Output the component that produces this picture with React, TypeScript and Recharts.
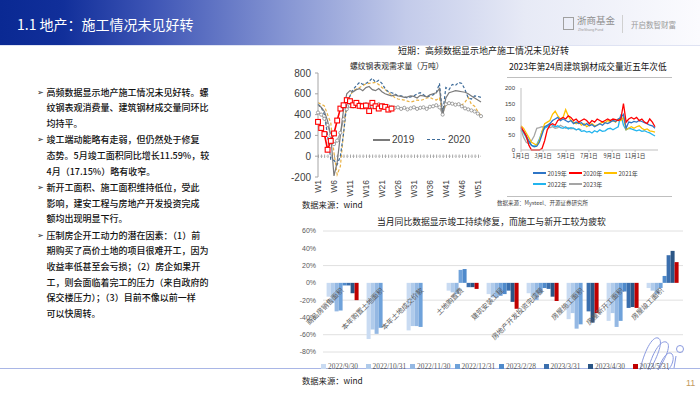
import React from "react";
import { Bar, BarChart, CartesianGrid, Line, LineChart, ReferenceLine, XAxis, YAxis } from "recharts";

const CJK = '"Noto Sans CJK SC", "Noto Sans", sans-serif';
const SANS = '"Liberation Sans", Arial, sans-serif';
const SERIF = '"Liberation Serif", "DejaVu Serif", serif';

// ---- 螺纹钢表观需求量（万吨），按周 W1..W52
const weekLabels = Array.from({ length: 52 }, (_, i) => `W${i + 1}`);
const rebar2019 = [490, 470, 430, 340, 200, -190, -60, 200, 450, 600, 630, 620, 640, 650, 630, 660, 670, 640, 630, 650, 620, 600, 590, 580, 590, 580, 575, 565, 570, 580, 575, 560, 585, 580, 570, 590, 600, 610, 650, 390, 560, 610, 620, 630, 625, 620, 615, 600, 580, 560, 540, 520];
const rebar2020 = [500, 470, 400, 200, -30, -40, -80, 0, 220, 500, 580, 640, 680, 710, 690, 700, 720, 750, 710, 730, 700, 650, 620, 610, 600, 580, 580, 570, 560, 570, 580, 600, 610, 590, 570, 580, 590, 610, 700, 410, 660, 640, 690, 680, 710, 700, 640, 560, 550, 580, 575, 565];
const rebar2021 = [515, 500, 483, 400, 320, 32, -177, -97, 225, 516, 580, 629, 645, 661, 680, 694, 700, 705, 710, 690, 661, 640, 613, 590, 565, 550, 545, 540, 530, 520, 530, 540, 535, 545, 560, 565, 550, 540, 560, 420, 500, 510, 500, 495, 505, 490, 520, 565, 500, 480, 430, 390];
const rebar2022 = [420, 400, 360, 300, 200, 116, 150, 225, 355, 452, 484, 480, 495, 500, 485, 500, 490, 475, 485, 500, 490, 475, 480, 470, 465, 470, 455, 465, 450, 460, 470, 455, 465, 470, 455, 475, 480, 490, 470, 400, 500, 510, 505, 495, 500, 480, 460, 450, 440, 430, 410, 385];
const rebar2023 = [330, 271, 213, 62, 147, 219, 343, 458, 490, 539, 529, 490, 513, 484, 480, 487, 434, 513, 480, 458, 480, 474, 448, 458];
const rebarTicks = [-200, 0, 200, 400, 600, 800];

// ---- 建筑钢材成交量（千吨），按周
const monthTicks = [1, 60, 121, 182, 244, 305];
const monthLabels = ["1月1日", "3月1日", "5月1日", "7月1日", "9月1日", "11月1日"];
const deal2019 = [70, 60, 45, 30, 15, 10, 12, 25, 50, 75, 80, 85, 95, 100, 105, 95, 100, 95, 90, 95, 85, 90, 85, 88, 80, 85, 78, 82, 75, 80, 85, 80, 88, 85, 90, 95, 92, 100, 105, 115, 70, 90, 88, 92, 90, 95, 92, 88, 85, 80, 78, 70];
const deal2020 = [75, 60, 45, 15, 0, 0, 0, 0, 5, 30, 65, 80, 85, 80, 95, 100, 105, 100, 110, 105, 95, 100, 90, 95, 100, 95, 85, 95, 90, 100, 95, 90, 95, 100, 95, 100, 98, 95, 100, 150, 90, 100, 105, 100, 105, 95, 100, 90, 85, 100, 90, 75];
const deal2021 = [78, 70, 55, 40, 25, 20, 15, 30, 60, 85, 90, 95, 115, 125, 110, 100, 105, 130, 110, 95, 90, 85, 90, 80, 85, 75, 80, 85, 78, 80, 85, 90, 88, 95, 92, 95, 90, 100, 95, 105, 65, 70, 75, 70, 75, 78, 70, 65, 68, 62, 60, 58];
const deal2022 = [70, 55, 40, 25, 15, 12, 18, 35, 60, 70, 75, 85, 80, 75, 78, 72, 70, 75, 68, 72, 70, 65, 68, 60, 62, 58, 60, 55, 62, 58, 65, 60, 62, 68, 70, 65, 70, 75, 115, 80, 65, 70, 68, 65, 62, 65, 60, 62, 58, 55, 50, 45];
const deal2023 = [65, 40, 25, 20, 30, 45, 70, 72, 75, 73, 78, 72, 75, 70, 72, 80, 75, 70, 72, 68, 70, 65, 68, 65];

// ---- 当月同比（%）
const categories = ["商品房销售面积", "本年购置土地面积", "本年土地成交价款", "土地购置费", "建筑安装工程", "房地产开发投资完成额", "房屋施工面积", "房屋新开工面积", "房屋竣工面积"];
const yoy20220930 = [-16, -65, -55, -9, -13, -12, -42, -44, -6];
const yoy20221031 = [-23, -54, -50, -11, -17, -16, -35, -35, -9];
const yoy20221130 = [-33, -59, -50, -13, -17, -20, -53, -51, -13];
const yoy20221231 = [-32, -52, -51, 15, -15, -12, -48, -44, -6];
const yoy20230228 = [-3, null, null, 16, -13, -6, null, -10, 8];
const yoy20230331 = [-3, null, null, -5, -9, -7, -33, -29, 32];
const yoy20230430 = [-12, null, null, -5, -22, -16, -46, -28, 37];
const yoy20230531 = [-20, null, null, -7, -30, -21, -35, -29, 24];
const yoyTicks = [-80, -60, -40, -20, 0, 20, 40, 60];

const rebarSeries = [
  { key: "y2022", name: "2022", data: rebar2022, color: "#a6a6a6" },
  { key: "y2021", name: "2021", data: rebar2021, color: "#e9b143", dash: "3 2" },
  { key: "y2020", name: "2020", data: rebar2020, color: "#3d6b99", dash: "3 2" },
  { key: "y2019", name: "2019", data: rebar2019, color: "#7a7a7a" },
  { key: "y2023", name: "2023", data: rebar2023, color: "#ff0000" },
];
const rebarRows = weekLabels.map((w, i) => {
  const row: any = { week: w };
  rebarSeries.forEach((s) => (row[s.key] = s.data[i]));
  return row;
});

const dealSeries = [
  { key: "d2023", name: "2023年", data: deal2023, color: "#a5a5a5" },
  { key: "d2022", name: "2022年", data: deal2022, color: "#22b4ee" },
  { key: "d2021", name: "2021年", data: deal2021, color: "#ffc000" },
  { key: "d2019", name: "2019年", data: deal2019, color: "#2e75c6" },
  { key: "d2020", name: "2020年", data: deal2020, color: "#ff0000" },
];
const dealLegendOrder = ["d2019", "d2020", "d2021", "d2022", "d2023"];
const dealRows = deal2019.map((_, i) => {
  const row: any = { day: 1 + i * 7 };
  dealSeries.forEach((s) => (row[s.key] = s.data[i]));
  return row;
});

const yoySeries = [
  { key: "a", name: "2022/9/30", data: yoy20220930, color: "#c9dbf2" },
  { key: "b", name: "2022/10/31", data: yoy20221031, color: "#b0cbeb" },
  { key: "c", name: "2022/11/30", data: yoy20221130, color: "#94b8e3" },
  { key: "d", name: "2022/12/31", data: yoy20221231, color: "#6fa2da" },
  { key: "e", name: "2023/2/28", data: yoy20230228, color: "#4f8acb" },
  { key: "f", name: "2023/3/31", data: yoy20230331, color: "#3b6fae" },
  { key: "g", name: "2023/4/30", data: yoy20230430, color: "#2b5686" },
  { key: "h", name: "2023/5/31", data: yoy20230531, color: "#c00000" },
];
const yoyRows = categories.map((c, i) => {
  const row: any = { cat: c };
  yoySeries.forEach((s) => (row[s.key] = s.data[i]));
  return row;
});

const bullets = [
  ["高频数据显示地产施工情况未见好转。螺", "纹钢表观消费量、建筑钢材成交量同环比", "均持平。"],
  ["竣工端动能略有走弱，但仍然处于修复", "态势。5月竣工面积同比增长11.59%，较", "4月（17.15%）略有收窄。"],
  ["新开工面积、施工面积维持低位，受此", "影响，建安工程与房地产开发投资完成", "额均出现明显下行。"],
  ["压制房企开工动力的潜在因素：（1）前", "期购买了高价土地的项目很难开工，因为", "收益率低甚至会亏损；（2）房企如果开", "工，则会面临着完工的压力（来自政府的", "保交楼压力）；（3）目前不像以前一样", "可以快周转。"],
];

function Txt({ x, y, children, style }: any) {
  return (
    <div style={{ position: "absolute", left: x, top: y, transform: "translateY(-50%)", whiteSpace: "nowrap", lineHeight: 1.2, ...style }}>
      {children}
    </div>
  );
}

const SquareDot = (p: any) => {
  if (p.cx == null || p.cy == null || p.value == null) return <g key={`sq-${p.index}`} />;
  return <rect key={`sq-${p.index}`} x={p.cx - 2.4} y={p.cy - 2.4} width={4.8} height={4.8} fill="#fff" stroke="#ff0000" strokeWidth={1.1} />;
};

const WeekTick = ({ x, y, payload }: any) => (
  <text transform={`translate(${x + 3},${y}) rotate(-90)`} textAnchor="end" fontSize={8.5} fontFamily={SANS} fill="#404040">
    {payload.value}
  </text>
);

// label sits just under the 0% line: plot height 121, zero is 80/140 of it above the bottom
const CAT_LIFT = 121 * (80 / 140) - 8;
const CatTick = ({ x, y, payload }: any) => (
  <g transform={`translate(${x + 1},${y - CAT_LIFT})`}>
    <text transform="rotate(-45)" textAnchor="end" fontSize={7} fontFamily={CJK} fill="#595959">
      {payload.value}
    </text>
  </g>
);

function RebarChart() {
  return (
    <div style={{ position: "absolute", left: 280, top: 60 }}>
      <LineChart width={210} height={150} data={rebarRows} margin={{ top: 13, right: 9, left: 8, bottom: 3 }}>
        <XAxis dataKey="week" interval={4} tick={<WeekTick />} axisLine={false} tickLine={false} tickSize={0} tickMargin={3} height={30} />
        <YAxis
          domain={[-200, 800]}
          ticks={rebarTicks}
          width={30}
          tick={{ fontSize: 10, fill: "#404040", fontFamily: SANS }}
          axisLine={{ stroke: "#a6a6a6" }}
          tickLine={{ stroke: "#a6a6a6" }}
          tickSize={3}
          tickMargin={4}
        />
        <ReferenceLine y={0} stroke="#bfbfbf" strokeWidth={0.8} strokeDasharray="1 1" />
        <ReferenceLine y={0} stroke="#8c8c8c" strokeWidth={3.5} strokeDasharray="0.7 2.5" />
        {rebarSeries.map((s) => (
          <Line
            key={s.key}
            dataKey={s.key}
            stroke={s.color}
            strokeWidth={s.key === "y2023" ? 1.6 : 1.2}
            strokeDasharray={s.dash}
            dot={s.key === "y2023" ? SquareDot : s.key === "y2022" ? { r: 1.6, fill: "#fff", stroke: "#8c8c8c", strokeWidth: 0.8 } : false}
            isAnimationActive={false}
            type="linear"
          />
        ))}
      </LineChart>
    </div>
  );
}

function DealChart() {
  return (
    <div style={{ position: "absolute", left: 490, top: 78 }}>
      <LineChart width={180} height={90} data={dealRows} margin={{ top: 10, right: 12, left: 9, bottom: 4 }}>
        <XAxis
          dataKey="day"
          type="number"
          domain={[1, 366]}
          ticks={monthTicks}
          interval={0}
          tickFormatter={(v: number) => monthLabels[monthTicks.indexOf(v)]}
          tick={{ fontSize: 5.6, fill: "#404040", fontFamily: CJK }}
          axisLine={{ stroke: "#bfbfbf" }}
          tickLine={{ stroke: "#bfbfbf" }}
          tickSize={2}
          tickMargin={2}
          height={14}
        />
        <YAxis
          domain={[0, 200]}
          ticks={[0, 50, 100, 150, 200]}
          width={22}
          tick={{ fontSize: 6, fill: "#404040", fontFamily: SANS }}
          axisLine={{ stroke: "#bfbfbf" }}
          tickLine={false}
          tickSize={0}
          tickMargin={6}
        />
        {dealSeries.map((s) => (
          <Line key={s.key} dataKey={s.key} stroke={s.color} strokeWidth={1.3} dot={false} isAnimationActive={false} type="linear" />
        ))}
      </LineChart>
    </div>
  );
}

function YoyChart() {
  return (
    <div style={{ position: "absolute", left: 280, top: 226 }}>
      <BarChart width={410} height={130} data={yoyRows} margin={{ top: 5, right: 7, left: 7, bottom: 3 }} barCategoryGap="9%" barGap={0}>
        <CartesianGrid vertical={false} stroke="#e0e0e0" />
        <YAxis
          domain={[-80, 60]}
          ticks={yoyTicks}
          width={36}
          tickFormatter={(v: number) => `${v}%`}
          tick={{ fontSize: 7, fill: "#595959", fontFamily: SANS }}
          axisLine={false}
          tickLine={false}
          tickSize={0}
          tickMargin={7}
        />
        {yoySeries.map((s) => (
          <Bar key={s.key} dataKey={s.key} fill={s.color} isAnimationActive={false} />
        ))}
        <XAxis dataKey="cat" interval={0} tick={<CatTick />} axisLine={false} tickLine={false} tickSize={0} tickMargin={0} height={1} />
      </BarChart>
    </div>
  );
}

export default function App() {
  let lineY = 92.7;
  const textLines: React.ReactNode[] = [];
  bullets.forEach((b, bi) => {
    b.forEach((ln, li) => {
      textLines.push(
        <Txt key={`${bi}-${li}`} x={46.5} y={lineY} style={{ fontSize: 9, color: "#111", fontFamily: CJK, fontWeight: 500 }}>
          {ln}
        </Txt>
      );
      if (li === 0)
        textLines.push(
          <Txt key={`m${bi}`} x={37} y={lineY} style={{ fontSize: 8, color: "#222", fontFamily: '"DejaVu Sans", sans-serif' }}>
            ➢
          </Txt>
        );
      lineY += 15.6;
    });
    lineY += 0.9;
  });

  return (
    <div style={{ position: "absolute", left: 0, top: 0, width: 700, height: 394, overflow: "hidden", background: "#fff", fontFamily: CJK }}>
      {/* header */}
      <div
        style={{
          position: "absolute",
          left: 0,
          top: 0,
          width: 700,
          height: 45,
          background: "linear-gradient(90deg, #0a2993 0%, #112f9a 9%, #3f56b6 22%, #8393d2 40%, #c3cbea 58%, #e7eaf6 75%, #fbfbfe 100%)",
        }}
      />
      <div style={{ position: "absolute", left: 0, top: 45, width: 700, height: 1, background: "#dfe3f3" }} />
      <Txt x={17} y={24} style={{ fontSize: 14, color: "#fff", fontFamily: CJK }}>
        1.1 地产：施工情况未见好转
      </Txt>
      <div style={{ position: "absolute", left: 563, top: 17, width: 11, height: 13, border: "1.5px solid #a0a0a0", boxSizing: "border-box" }} />
      <Txt x={577} y={21} style={{ fontSize: 9.5, color: "#8f8f8f", fontFamily: CJK }}>
        浙商基金
      </Txt>
      <Txt x={578} y={30} style={{ fontSize: 3.5, color: "#9a9a9a", fontFamily: SANS }}>
        ZheShang Fund
      </Txt>
      <div style={{ position: "absolute", left: 622, top: 15, width: 1, height: 18, background: "#d0d0d0" }} />
      <Txt x={631} y={24} style={{ fontSize: 7.5, color: "#9a9a9a", fontFamily: CJK }}>
        开启数智财富
      </Txt>

      {/* left text */}
      {textLines}

      {/* top charts */}
      <Txt x={398} y={51} style={{ fontSize: 9, color: "#222" }}>
        短期：高频数据显示地产施工情况未见好转
      </Txt>
      <Txt x={350} y={66} style={{ fontSize: 7.8, color: "#222" }}>
        螺纹钢表观需求量（万吨）
      </Txt>
      <RebarChart />
      <div style={{ position: "absolute", left: 373, top: 139, width: 17, height: 1.5, background: "#7a7a7a" }} />
      <Txt x={392} y={139.5} style={{ fontSize: 10, color: "#404040", fontFamily: SANS }}>
        2019
      </Txt>
      <div style={{ position: "absolute", left: 427, top: 139, width: 18, height: 0, borderTop: "1.5px dashed #3d6b99" }} />
      <Txt x={448} y={139.5} style={{ fontSize: 10, color: "#404040", fontFamily: SANS }}>
        2020
      </Txt>
      <Txt x={302} y={205} style={{ fontSize: 8.3, color: "#222" }}>
        数据来源：wind
      </Txt>

      <Txt x={509} y={66} style={{ fontSize: 8.6, color: "#111" }}>
        2023年第24周建筑钢材成交量近五年次低
      </Txt>
      <div style={{ position: "absolute", left: 507, top: 76.5, width: 165, height: 1, background: "#bfbfbf" }} />
      <DealChart />
      <div style={{ position: "absolute", left: 533, top: 167.5, width: 112, display: "flex", flexWrap: "wrap" }}>
        {dealLegendOrder.map((k) => {
          const s = dealSeries.find((d) => d.key === k)!;
          return (
            <div key={k} style={{ width: 35.5, height: 11, display: "flex", alignItems: "center" }}>
              <span style={{ display: "inline-block", width: 13, height: 1.5, background: s.color }} />
              <span style={{ fontSize: 6, color: "#404040", marginLeft: 1.5, fontFamily: CJK, whiteSpace: "nowrap" }}>{s.name}</span>
            </div>
          );
        })}
      </div>
      <div style={{ position: "absolute", left: 507, top: 195.5, width: 165, height: 1, background: "#bfbfbf" }} />
      <Txt x={497} y={202.5} style={{ fontSize: 5.5, color: "#444" }}>
        数据来源：Mysteel、开源证券研究所
      </Txt>

      {/* bottom chart */}
      <Txt x={377} y={222} style={{ fontSize: 8.8, color: "#222" }}>
        当月同比数据显示竣工持续修复，而施工与新开工较为疲软
      </Txt>
      <YoyChart />
      <svg style={{ position: "absolute", left: 636, top: 330 }} width={60} height={45}>
        <g fill="none" stroke="#8a9ae0" strokeWidth={1}>
          <path d="M 4 40 C 8 22, 16 6, 22 8 C 28 10, 22 26, 14 40" />
          <path d="M 12 40 C 16 24, 24 10, 30 12 C 36 14, 30 28, 22 40" />
          <path d="M 22 40 C 26 28, 32 20, 36 24 C 39 28, 36 36, 32 40" />
          <path d="M 38 38 L 40 26" />
          <circle cx={44} cy={19} r={3.5} />
        </g>
      </svg>
      <div style={{ position: "absolute", left: 0, top: 368, width: 700, height: 1, background: "#a9b6e6" }} />
      <div style={{ position: "absolute", left: 321, top: 362, display: "flex", alignItems: "center" }}>
        {yoySeries.map((s) => (
          <div key={s.key} style={{ display: "flex", alignItems: "center", width: 44.5 }}>
            <span style={{ display: "inline-block", width: 5, height: 5, background: s.color }} />
            <span style={{ fontSize: 7.4, color: "#595959", marginLeft: 2, fontFamily: SERIF, whiteSpace: "nowrap" }}>{s.name}</span>
          </div>
        ))}
      </div>
      <Txt x={302} y={381} style={{ fontSize: 8.3, color: "#222" }}>
        数据来源：wind
      </Txt>
      <Txt x={686} y={383} style={{ fontSize: 9, color: "#c49a5c", fontFamily: SANS }}>
        11
      </Txt>
    </div>
  );
}
